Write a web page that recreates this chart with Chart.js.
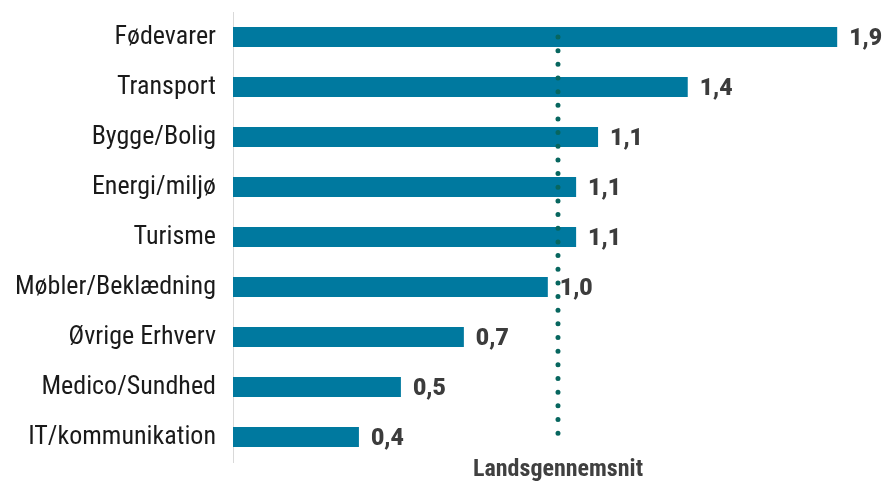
<!DOCTYPE html>
<html lang="da">
<head>
  <meta charset="UTF-8" />
  <title>Brancher</title>
  <script src="https://cdn.jsdelivr.net/npm/chart.js"></script>
  <style>
    html, body { margin: 0; padding: 0; background: #fff; }
    #wrap { width: 886px; height: 481px; }
  </style>
</head>
<body>
  <div id="wrap"><canvas id="brancheChart"></canvas></div>

  <script>
    // Brancher og værdier
    const brancher = ['Fødevarer', 'Transport', 'Bygge/Bolig', 'Energi/miljø', 'Turisme',
      'Møbler/Beklædning', 'Øvrige Erhverv', 'Medico/Sundhed', 'IT/kommunikation'];
    const vaerdier = [1.90, 1.43, 1.148, 1.079, 1.079, 0.99, 0.726, 0.528, 0.396];
    const landsgennemsnit = 1.022;
    const gennemsnitTekst = 'Landsgennemsnit';

    const fontSmal = "'Roboto Condensed', 'Liberation Sans Narrow', 'Roboto', sans-serif";

    const fmt = v => v.toFixed(1).replace('.', ',');

    // tal ved enden af søjlerne
    const vaerdiLabels = {
      id: 'vaerdiLabels',
      afterDatasetsDraw(chart) {
        const ctx = chart.ctx;
        const meta = chart.getDatasetMeta(0);
        ctx.save();
        ctx.font = "900 23px Roboto, sans-serif";
        ctx.fillStyle = '#3c3c3c';
        ctx.textBaseline = 'alphabetic';
        ctx.textAlign = 'left';
        meta.data.forEach((bar, i) => {
          ctx.fillText(fmt(vaerdier[i]), bar.x + 12, bar.y + 8);
        });
        ctx.restore();
      }
    };

    // prikket linje for landsgennemsnittet
    const gennemsnitLinje = {
      id: 'gennemsnitLinje',
      afterDatasetsDraw(chart) {
        const ctx = chart.ctx;
        const x = chart.scales.x.getPixelForValue(landsgennemsnit);
        const y = chart.scales.y;
        const top = y.getPixelForValue(0);
        const bottom = y.getPixelForValue(brancher.length - 1) - 5;
        ctx.save();
        ctx.strokeStyle = '#07665f';
        ctx.lineWidth = 5;
        ctx.lineCap = 'round';
        ctx.setLineDash([0, 13.66]);
        ctx.beginPath();
        ctx.moveTo(x, top);
        ctx.lineTo(x, bottom + 2);
        ctx.stroke();
        ctx.setLineDash([]);
        ctx.font = "bold 24px " + fontSmal;
        ctx.fillStyle = '#404040';
        ctx.textAlign = 'center';
        ctx.textBaseline = 'alphabetic';
        ctx.fillText(gennemsnitTekst, x, 476);
        ctx.restore();
      }
    };

    new Chart(document.getElementById('brancheChart'), {
      type: 'bar',
      data: {
        labels: brancher,
        datasets: [{
          data: vaerdier,
          backgroundColor: '#00799f',
          borderWidth: 0,
          barPercentage: 0.4,
          categoryPercentage: 1
        }]
      },
      options: {
        indexAxis: 'y',
        responsive: true,
        maintainAspectRatio: false,
        animation: false,
        layout: { padding: { left: 0, top: 12, right: 17, bottom: 19 } },
        plugins: {
          legend: { display: false },
          tooltip: { enabled: false }
        },
        scales: {
          x: {
            display: false,
            min: 0,
            max: 2.0
          },
          y: {
            afterFit(scale) {
              scale.width = 233;
              scale.paddingTop = 0;
              scale.paddingBottom = 0;
            },
            grid: { display: false },
            border: { display: true, color: '#d9d9d9', width: 1 },
            ticks: {
              color: '#1a1a1a',
              padding: 9,
              font: { family: fontSmal, size: 26 }
            }
          }
        }
      },
      plugins: [vaerdiLabels, gennemsnitLinje]
    });
  </script>
</body>
</html>
